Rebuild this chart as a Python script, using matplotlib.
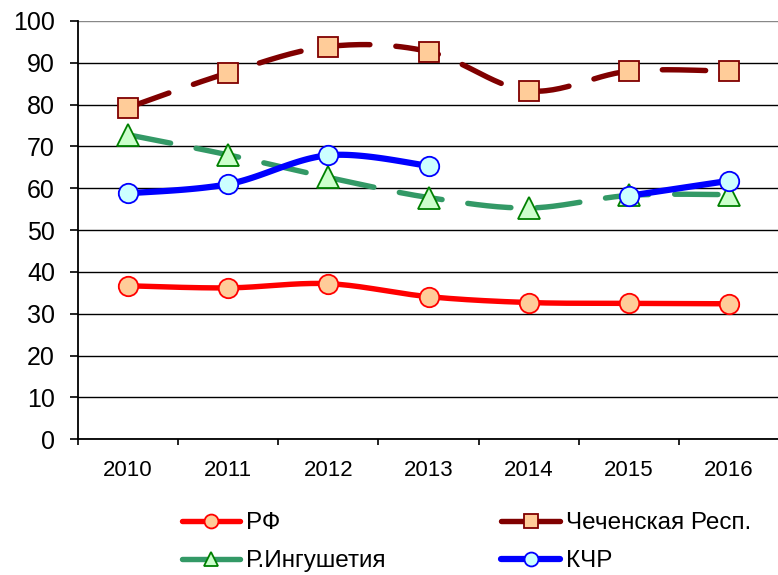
import numpy as np
import matplotlib
matplotlib.use("Agg")
import matplotlib.pyplot as plt
from matplotlib.lines import Line2D

plt.rcParams['font.family'] = ['Liberation Sans', 'DejaVu Sans']

years = ['2010', '2011', '2012', '2013', '2014', '2015', '2016']
rf = [36.7, 36.2, 37.2, 34.1, 32.7, 32.5, 32.4]
chechnya = [79.3, 87.6, 93.9, 92.7, 83.3, 88.0, 88.0]
ingushetia = [72.8, 68.0, 62.6, 57.8, 55.3, 58.3, 58.5]
kchr = [58.8, 61.0, 67.9, 65.4, np.nan, 58.2, 61.8]
names = ['РФ', 'Чеченская Респ.', 'Р.Ингушетия', 'КЧР']
yticks = list(range(0, 101, 10))


def smooth(xs, ys, n=30):
    """Excel-style smoothed line (Catmull-Rom Bezier), broken at NaN gaps."""
    xs = np.asarray(xs, float)
    ys = np.asarray(ys, float)
    outx, outy = [], []
    good = ~np.isnan(ys)
    runs, cur = [], []
    for i in range(len(ys)):
        if good[i]:
            cur.append(i)
        else:
            if cur:
                runs.append(cur)
            cur = []
    if cur:
        runs.append(cur)
    t = np.linspace(0, 1, n)
    for r in runs:
        px, py = xs[r], ys[r]
        m = len(r)
        if m == 1:
            outx += [px[0]]; outy += [py[0]]
        else:
            for i in range(m - 1):
                i0 = max(i - 1, 0); i3 = min(i + 2, m - 1)
                c1x = px[i] + (px[i + 1] - px[i0]) / 6
                c1y = py[i] + (py[i + 1] - py[i0]) / 6
                c2x = px[i + 1] - (px[i3] - px[i]) / 6
                c2y = py[i + 1] - (py[i3] - py[i]) / 6
                bx = ((1 - t) ** 3 * px[i] + 3 * (1 - t) ** 2 * t * c1x
                      + 3 * (1 - t) * t ** 2 * c2x + t ** 3 * px[i + 1])
                by = ((1 - t) ** 3 * py[i] + 3 * (1 - t) ** 2 * t * c1y
                      + 3 * (1 - t) * t ** 2 * c2y + t ** 3 * py[i + 1])
                outx += list(bx); outy += list(by)
        outx.append(np.nan); outy.append(np.nan)
    return np.array(outx), np.array(outy)


fig = plt.figure(figsize=(7.78, 5.75), dpi=100)
ax = fig.add_axes([78 / 778, (575 - 439.3) / 575, 701 / 778, 418.3 / 575])

x = np.arange(len(years))

styles = [
    dict(data=rf, color='#FF0000', ls='-', marker='o', mfc='#FFCC99', mec='#FF0000', lw=3.9, ms=14),
    dict(data=chechnya, color='#800000', ls='--', marker='s', mfc='#FFCC99', mec='#800000', lw=3.9, ms=14),
    dict(data=ingushetia, color='#339966', ls='--', marker='^', mfc='#CCFFCC', mec='#008000', lw=3.9, ms=15.5),
    dict(data=kchr, color='#0000FF', ls='-', marker='o', mfc='#CCFFFF', mec='#0000FF', lw=4.5, ms=14),
]

handles = []
for k, st in enumerate(styles):
    sx, sy = smooth(x, st['data'])
    ln, = ax.plot(sx, sy, color=st['color'], lw=st['lw'], ls=st['ls'],
                  solid_capstyle='round', dash_capstyle='round', zorder=3 + 2 * k)
    if st['ls'] == '--':
        ln.set_dashes((8, 4.8))
    ax.plot(x, st['data'], ls='none', marker=st['marker'], ms=st['ms'],
            mfc=st['mfc'], mec=st['mec'], mew=1.3, zorder=4 + 2 * k)
    h = Line2D([], [], color=st['color'], lw=st['lw'], ls='-',
               solid_capstyle='round', marker=st['marker'], ms=10,
               mfc=st['mfc'], mec=st['mec'], mew=1.3)
    handles.append(h)

ax.set_xlim(-0.5, 6.5)
ax.set_ylim(0, 100)
ax.set_yticks(yticks)
ax.set_yticklabels([str(v) for v in yticks], fontsize=18)
ax.set_xticks(x)
ax.set_xticklabels(years, fontsize=16)
ax.set_xticks(np.arange(-0.5, 7, 1), minor=True)
ax.tick_params(axis='x', which='major', length=0, pad=15)
ax.tick_params(axis='x', which='minor', length=4.5, width=1.2, direction='out')
ax.tick_params(axis='y', length=5.5, width=1.2, direction='out', pad=11)

ax.grid(axis='y', color='#000000', lw=1.0, zorder=1)
ax.set_axisbelow(True)
gl = ax.get_ygridlines()
gl[-1].set_color('#888888')
for s in ['top', 'right']:
    ax.spines[s].set_visible(False)
for s in ['left', 'bottom']:
    ax.spines[s].set_linewidth(1.3)
    ax.spines[s].set_color('black')
    ax.spines[s].set_zorder(2)

order = [0, 2, 1, 3]
leg = fig.legend([handles[i] for i in order], [names[i] for i in order],
                 loc='upper left', bbox_to_anchor=(182 / 778, 1 - 512 / 575),
                 ncol=2, frameon=False, fontsize=17.5, handlelength=2.4,
                 handletextpad=0.25, columnspacing=4.75, labelspacing=0.66,
                 borderpad=0, borderaxespad=0)

fig.savefig('out.png', dpi=100)
